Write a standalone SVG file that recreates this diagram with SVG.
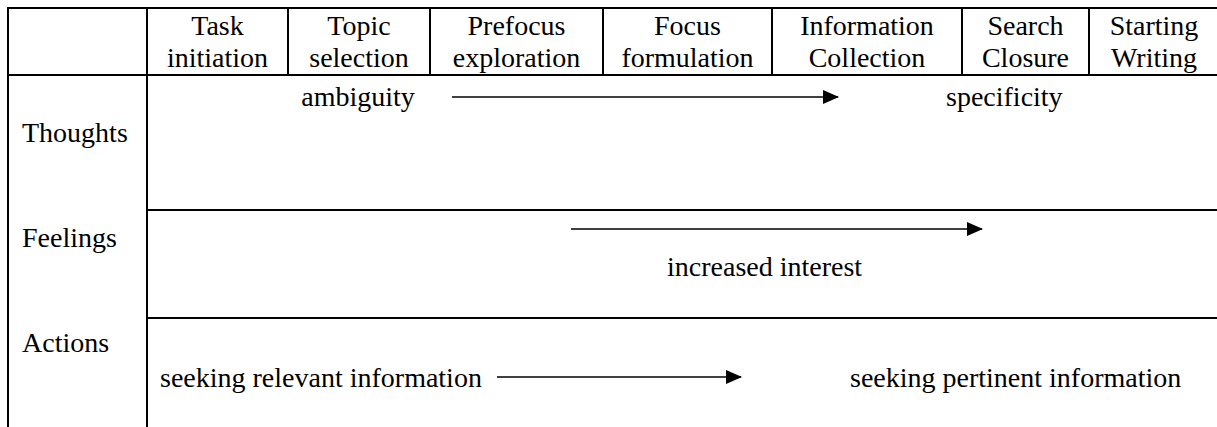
<svg xmlns="http://www.w3.org/2000/svg" width="1217" height="427" viewBox="0 0 1217 427">
<defs>
<style>
.t text{font-size:28px;fill:#000}
.c{text-anchor:middle}
.grid{stroke:#000;stroke-width:2;fill:none}
.arr{stroke:#000;stroke-width:1.6;fill:none}
</style>
<marker id="ah" markerUnits="userSpaceOnUse" markerWidth="16" markerHeight="14" refX="15" refY="7" orient="auto">
<path d="M0,0 L16,7 L0,14 Z" fill="#000"/>
</marker>
</defs>
<rect width="1217" height="427" fill="#fff"/>
<g id="table" class="grid">
<line x1="7" y1="8" x2="1217" y2="8"/>
<line x1="7" y1="75" x2="1217" y2="75"/>
<line x1="147" y1="210" x2="1217" y2="210"/>
<line x1="147" y1="318" x2="1217" y2="318"/>
<line x1="8" y1="7" x2="8" y2="427"/>
<line x1="147" y1="7" x2="147" y2="427"/>
<line x1="288" y1="7" x2="288" y2="75"/>
<line x1="430" y1="7" x2="430" y2="75"/>
<line x1="603" y1="7" x2="603" y2="75"/>
<line x1="772" y1="7" x2="772" y2="75"/>
<line x1="962" y1="7" x2="962" y2="75"/>
<line x1="1089" y1="7" x2="1089" y2="75"/>
</g>
<g class="t" font-family="'Liberation Serif', 'Times New Roman', serif" font-size="28">
<g id="h-task"><text class="c" x="217.5" y="35">Task</text><text class="c" x="217.5" y="67">initiation</text></g>
<g id="h-topic"><text class="c" x="359" y="35">Topic</text><text class="c" x="359" y="67">selection</text></g>
<g id="h-prefocus"><text class="c" x="516.5" y="35">Prefocus</text><text class="c" x="516.5" y="67">exploration</text></g>
<g id="h-focus"><text class="c" x="687.5" y="35">Focus</text><text class="c" x="687.5" y="67">formulation</text></g>
<g id="h-info"><text class="c" x="867" y="35">Information</text><text class="c" x="867" y="67">Collection</text></g>
<g id="h-search"><text class="c" x="1025.5" y="35">Search</text><text class="c" x="1025.5" y="67">Closure</text></g>
<g id="h-writing"><text class="c" x="1154" y="35">Starting</text><text class="c" x="1154" y="67">Writing</text></g>
<g id="r-thoughts"><text x="22" y="142">Thoughts</text></g>
<g id="r-feelings"><text x="22" y="247">Feelings</text></g>
<g id="r-actions"><text x="22" y="352">Actions</text></g>
<g id="ambiguity"><text class="c" x="358" y="106">ambiguity</text></g>
<g id="specificity"><text x="946" y="106">specificity</text></g>
<g id="increased-interest"><text x="667" y="276">increased interest</text></g>
<g id="seeking-relevant"><text x="160" y="387">seeking relevant information</text></g>
<g id="seeking-pertinent"><text x="850" y="387">seeking pertinent information</text></g>
</g>
<g id="connectors" class="arr">
<line x1="452" y1="97" x2="838" y2="97" marker-end="url(#ah)"/>
<line x1="571" y1="229" x2="982" y2="229" marker-end="url(#ah)"/>
<line x1="497" y1="377" x2="741" y2="377" marker-end="url(#ah)"/>
</g>
</svg>
